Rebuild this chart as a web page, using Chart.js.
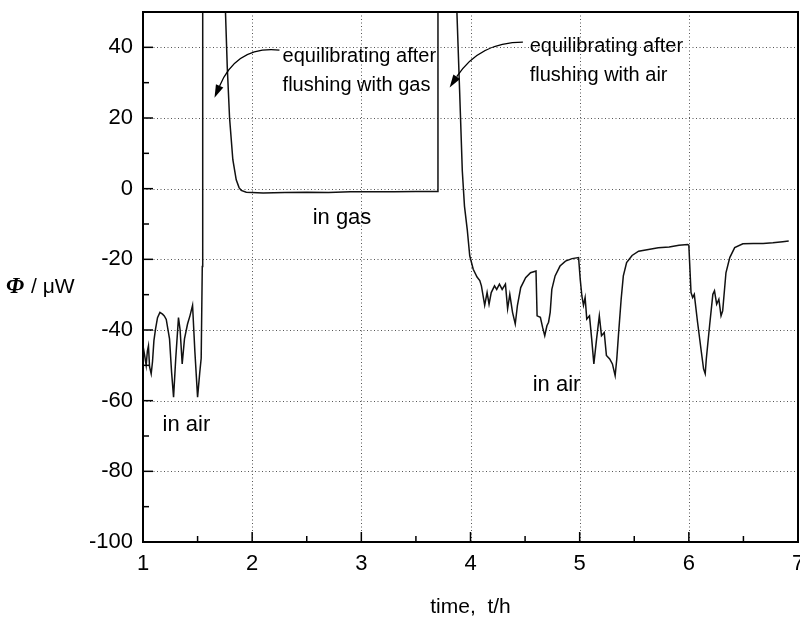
<!DOCTYPE html>
<html>
<head>
<meta charset="utf-8">
<script src="https://cdn.jsdelivr.net/npm/chart.js@4/dist/chart.umd.min.js"></script>
<style>
  html, body { margin: 0; padding: 0; background: #fff; }
  canvas { display: block; }
</style>
</head>
<body>
<canvas id="chart" width="800" height="618"></canvas>
<script>
// time in hours and heat flow in microwatt
const times = [
  1.000, 1.014, 1.029, 1.040, 1.050, 1.060, 1.075, 1.087, 1.100, 1.115,
  1.133, 1.155, 1.179, 1.195, 1.213, 1.243, 1.262, 1.280, 1.300, 1.325,
  1.340, 1.359, 1.380, 1.408, 1.430, 1.454, 1.475, 1.500, 1.520, 1.533,
  1.543, 1.547, 1.750, 1.756, 1.772, 1.793, 1.823, 1.854, 1.880, 1.900,
  1.946, 2.100, 2.300, 2.500, 2.700, 2.900, 3.100, 3.300, 3.500, 3.699,
  3.702, 3.872, 3.876, 3.900, 3.925, 3.945, 3.970, 3.993, 4.025, 4.060,
  4.085, 4.100, 4.130, 4.152, 4.170, 4.190, 4.220, 4.240, 4.265, 4.290,
  4.320, 4.340, 4.360, 4.385, 4.410, 4.430, 4.460, 4.505, 4.550, 4.600,
  4.610, 4.640, 4.660, 4.680, 4.700, 4.715, 4.730, 4.745, 4.775, 4.820,
  4.870, 4.930, 4.990, 5.005, 5.020, 5.035, 5.050, 5.065, 5.090, 5.110,
  5.130, 5.155, 5.180, 5.200, 5.225, 5.245, 5.275, 5.300, 5.325, 5.340,
  5.355, 5.380, 5.400, 5.430, 5.480, 5.540, 5.630, 5.720, 5.820, 5.910,
  5.990, 6.000, 6.020, 6.035, 6.050, 6.080, 6.115, 6.135, 6.150, 6.160,
  6.190, 6.220, 6.235, 6.255, 6.275, 6.295, 6.310, 6.340, 6.375, 6.420,
  6.495, 6.590, 6.680, 6.770, 6.860, 6.915
];
const power = [
  -44.5, -47, -50, -46, -44.5, -50.4, -52.4, -49, -43, -39.7,
  -36.5, -35, -35.5, -36, -37, -42.5, -52, -59, -48, -36.5,
  -40, -49.6, -42.5, -38.3, -36, -33, -46, -59, -52, -48,
  -22, 300, 300, 49.5, 34.4, 20, 8.2, 2.5, 0.3, -0.5,
  -1, -1.2, -1.1, -1.0, -1.1, -0.9, -0.9, -0.9, -0.8, -0.8,
  300, 300, 49.5, 28, 5, -5, -11.5, -19, -22.8, -25,
  -26, -27.5, -33, -29.4, -32.7, -29.4, -27.5, -28.5, -27, -28.5,
  -27, -34, -29.9, -35, -38.3, -33, -28, -25.2, -23.8, -23.3,
  -36, -36.4, -39.2, -41.6, -38.8, -37.8, -35, -28.5, -24.7, -21.9,
  -20.5, -19.8, -19.5, -25.6, -30.3, -33, -30.8, -36.9, -36, -42.5,
  -49.6, -42.5, -36, -41.6, -40.7, -47.2, -48.2, -49.6, -52.9, -48.2,
  -41.6, -31.3, -24.7, -20.9, -18.9, -17.7, -17.2, -16.7, -16.5, -16,
  -15.8, -16, -29.4, -30.8, -29.9, -37.8, -46.3, -51, -52.4, -48.2,
  -38.8, -29.9, -28.9, -32.7, -31.3, -36, -34.6, -23.8, -19.5, -16.7,
  -15.6, -15.5, -15.5, -15.3, -15, -14.8
];

const xTickLabels = ["1", "2", "3", "4", "5", "6", "7"];
const yTickLabels = ["-100", "-80", "-60", "-40", "-20", "0", "20", "40"];

// text placed in data coordinates (t, value)
const labels = [
  { text: "in gas", t: 2.554, v: -9.9, size: 22 },
  { text: "in air", t: 1.179, v: -68.5, size: 22 },
  { text: "in air", t: 4.570, v: -57.3, size: 22 },
  { text: "equilibrating after", t: 2.279, v: 35.9, size: 20 },
  { text: "flushing with gas", t: 2.279, v: 27.7, size: 20 },
  { text: "equilibrating after", t: 4.542, v: 38.8, size: 20 },
  { text: "flushing with air", t: 4.542, v: 30.5, size: 20 }
];
const arrows = [
  { from: [2.250, 39.2], ctrl: [1.860, 40.5], to: [1.655, 25.7] },
  { from: [4.480, 41.5], ctrl: [4.080, 41.5], to: [3.809, 28.6] }
];

const SANS = '"Liberation Sans", Arial, Helvetica, sans-serif';

const decor = {
  id: "decor",
  beforeDatasetsDraw(chart) {
    const { ctx, chartArea: a, scales: { x, y } } = chart;
    ctx.save();
    ctx.strokeStyle = "#555";
    ctx.lineWidth = 1;
    ctx.setLineDash([1, 2.5]);
    x.ticks.forEach(tk => {
      if (tk.value % 1 !== 0 || tk.value <= 1 || tk.value >= 7) return;
      const px = Math.round(x.getPixelForValue(tk.value)) + 0.5;
      ctx.beginPath(); ctx.moveTo(px, a.top); ctx.lineTo(px, a.bottom); ctx.stroke();
    });
    y.ticks.forEach(tk => {
      if (tk.value % 20 !== 0 || tk.value <= -100) return;
      const py = Math.round(y.getPixelForValue(tk.value)) + 0.5;
      ctx.beginPath(); ctx.moveTo(a.left, py); ctx.lineTo(a.right, py); ctx.stroke();
    });
    ctx.restore();
  },
  afterDraw(chart) {
    const { ctx, chartArea: a, scales: { x, y } } = chart;
    ctx.save();
    // frame
    ctx.strokeStyle = "#000";
    ctx.lineWidth = 2;
    ctx.strokeRect(a.left, a.top, a.right - a.left, a.bottom - a.top);

    // inward ticks
    ctx.lineWidth = 1.5;
    x.ticks.forEach(tk => {
      const px = x.getPixelForValue(tk.value);
      const len = tk.value % 1 === 0 ? 10 : 6;
      ctx.beginPath(); ctx.moveTo(px, a.bottom); ctx.lineTo(px, a.bottom - len); ctx.stroke();
    });
    y.ticks.forEach(tk => {
      const py = y.getPixelForValue(tk.value);
      const len = tk.value % 20 === 0 ? 10 : 6;
      ctx.beginPath(); ctx.moveTo(a.left, py); ctx.lineTo(a.left + len, py); ctx.stroke();
    });

    // text in the plot
    ctx.fillStyle = "#000";
    ctx.textAlign = "left";
    ctx.textBaseline = "alphabetic";
    labels.forEach(l => {
      ctx.font = l.size + "px " + SANS;
      ctx.fillText(l.text, x.getPixelForValue(l.t), y.getPixelForValue(l.v));
    });

    // curved arrows
    ctx.lineWidth = 1.3;
    arrows.forEach(ar => {
      const p0 = [x.getPixelForValue(ar.from[0]), y.getPixelForValue(ar.from[1])];
      const c = [x.getPixelForValue(ar.ctrl[0]), y.getPixelForValue(ar.ctrl[1])];
      const p1 = [x.getPixelForValue(ar.to[0]), y.getPixelForValue(ar.to[1])];
      const ang = Math.atan2(p1[1] - c[1], p1[0] - c[0]);
      const hl = 13, hw = 4;
      const bx = p1[0] - hl * Math.cos(ang), by = p1[1] - hl * Math.sin(ang);
      ctx.beginPath();
      ctx.moveTo(p0[0], p0[1]);
      ctx.quadraticCurveTo(c[0], c[1], bx, by);
      ctx.stroke();
      ctx.beginPath();
      ctx.moveTo(p1[0], p1[1]);
      ctx.lineTo(bx + hw * Math.sin(ang), by - hw * Math.cos(ang));
      ctx.lineTo(bx - hw * Math.sin(ang), by + hw * Math.cos(ang));
      ctx.closePath();
      ctx.fill();
    });

    // y axis title: Phi / uW
    const ty = y.getPixelForValue(-29.5);
    ctx.font = 'bold italic 23px "Liberation Serif", "DejaVu Serif", serif';
    ctx.fillText("\u03A6", 6, ty);
    ctx.font = "21px " + SANS;
    ctx.fillText("/ \u03BCW", 31, ty);
    ctx.restore();
  }
};

new Chart(document.getElementById("chart"), {
  type: "line",
  data: {
    datasets: [{
      data: times.map((t, i) => ({ x: t, y: power[i] })),
      borderColor: "#111",
      borderWidth: 1.5,
      pointRadius: 0,
      tension: 0,
      fill: false
    }]
  },
  options: {
    responsive: false,
    animation: false,
    devicePixelRatio: 1,
    layout: { padding: { top: 12, right: 2, left: 0, bottom: 0 } },
    plugins: { legend: { display: false }, tooltip: { enabled: false } },
    scales: {
      x: {
        type: "linear",
        min: 1,
        max: 7,
        grid: { display: false, drawTicks: false },
        border: { display: false },
        ticks: {
          stepSize: 0.5,
          autoSkip: false,
          maxRotation: 0,
          padding: 9,
          color: "#000",
          font: { family: SANS, size: 22 },
          callback: v => (v % 1 === 0 ? xTickLabels[v - 1] : "")
        },
        title: {
          display: true,
          text: "time,  t/h",
          color: "#000",
          font: { family: SANS, size: 21, lineHeight: 1 },
          padding: { top: 0, bottom: 0 }
        },
        afterFit(s) { s.height = 76; s.paddingLeft = 0; s.paddingRight = 0; }
      },
      y: {
        min: -100,
        max: 50,
        grid: { display: false, drawTicks: false },
        border: { display: false },
        ticks: {
          stepSize: 10,
          autoSkip: false,
          padding: 10,
          color: "#000",
          font: { family: SANS, size: 22 },
          callback: v => (v % 20 === 0 && v < 50 ? yTickLabels[(v + 100) / 20] : "")
        },
        afterFit(s) { s.width = 143; s.paddingTop = 0; s.paddingBottom = 0; }
      }
    }
  },
  plugins: [decor]
});
</script>
</body>
</html>
